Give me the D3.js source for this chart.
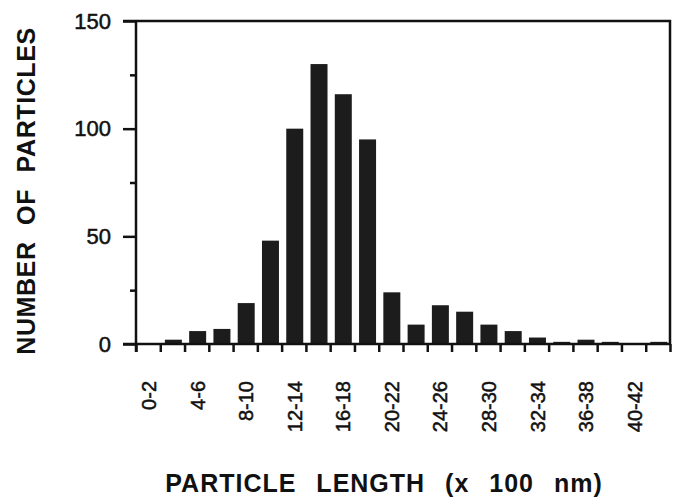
<!doctype html>
<html lang="en">
<head>
<meta charset="utf-8">
<title>Particle length</title>
<script src="https://d3js.org/d3.v7.min.js"></script>
<style>
  body { margin: 0; background: #fff; }
  svg { display: block; }
  text { font-family: "Liberation Sans", Arial, Helvetica, sans-serif; fill: #111; }
  .axis path, .axis line { stroke: #111; stroke-width: 2.5; }
  .axis text { font-size: 22px; fill: #111; stroke: #111; stroke-width: 0.5; }
  .title { font-weight: bold; font-size: 25px; }
</style>
</head>
<body>
<div id="chart"></div>
<script>
  // bins of particle length (x 100 nm)
  var bins = ["0-2","2-4","4-6","6-8","8-10","10-12","12-14","14-16","16-18","18-20","20-22",
              "22-24","24-26","26-28","28-30","30-32","32-34","34-36","36-38","38-40","40-42","42-44"];
  var counts = [0, 2, 6, 7, 19, 48, 100, 130, 116, 95, 24, 9, 18, 15, 9, 6, 3, 1, 2, 1, 0, 1];
  var yTicks = [0, 50, 100, 150];
  var yMinor = [25, 75, 125];

  (function() {
    var width = 673, height = 498;
    var left = 136, right = 670, plotTop = 21, plotBottom = 344;

    var svg = d3.select("#chart").append("svg")
        .attr("width", width)
        .attr("height", height);

    var x = d3.scaleBand().domain(bins).range([left, right]);
    var xb = d3.scaleLinear().domain([0, bins.length]).range([left, right]);
    var y = d3.scaleLinear().domain([0, 150]).range([plotBottom, plotTop]);

    // bars
    svg.append("g").selectAll("rect")
      .data(counts)
      .enter().append("rect")
        .attr("x", function(d, i) { return x(bins[i]) + x.bandwidth() * 0.19; })
        .attr("width", x.bandwidth() * 0.7)
        .attr("y", function(d) { return y(d); })
        .attr("height", function(d) { return plotBottom - y(d); })
        .attr("fill", "#1c1c1c");

    // frame: top and right
    svg.append("path")
        .attr("d", d3.line()([[left - 13, plotTop], [right, plotTop], [right, plotBottom]]))
        .attr("fill", "none")
        .attr("stroke", "#111")
        .attr("stroke-width", 2.5);

    // y axis
    svg.append("g")
        .attr("class", "axis")
        .attr("transform", "translate(" + left + ",0)")
        .call(d3.axisLeft(y).tickValues(yTicks).tickSize(13).tickSizeOuter(0).tickPadding(12))
        .call(function(g) { g.select(".domain").attr("d", "M0," + plotTop + "V" + (plotBottom + 8)); });

    svg.append("g")
        .attr("class", "axis")
        .attr("transform", "translate(" + left + ",0)")
        .call(d3.axisLeft(y).tickValues(yMinor).tickSize(6).tickFormat(""))
        .call(function(g) { g.select(".domain").remove(); });

    // x axis: ticks at the bin edges
    svg.append("g")
        .attr("class", "axis")
        .attr("transform", "translate(0," + plotBottom + ")")
        .call(d3.axisBottom(xb).tickValues(d3.range(bins.length + 1)).tickSize(8).tickFormat("").tickSizeOuter(0))
        .call(function(g) { g.select(".domain").attr("d", "M" + (left - 13) + ",0H" + right); });

    // every other bin is labelled
    svg.append("g").selectAll("text")
      .data(bins.filter(function(d, i) { return i % 2 === 0; }))
      .enter().append("text")
        .attr("transform", function(d) { return "translate(" + (x(d) + x.bandwidth() / 2 + 1) + ",381) rotate(-90)"; })
        .attr("text-anchor", "end")
        .attr("dy", "0.35em")
        .style("font-size", "20px")
        .style("stroke", "#111")
        .style("stroke-width", 0.5)
        .text(function(d) { return d; });

    // axis titles
    svg.append("text")
        .attr("class", "title")
        .attr("x", 384)
        .attr("y", 492)
        .attr("text-anchor", "middle")
        .style("word-spacing", "12px")
        .style("letter-spacing", "1px")
        .text("PARTICLE LENGTH (x 100 nm)");

    svg.append("text")
        .attr("class", "title")
        .attr("transform", "translate(35,191) rotate(-90)")
        .attr("text-anchor", "middle")
        .style("word-spacing", "9px")
        .style("letter-spacing", "0.6px")
        .text("NUMBER OF PARTICLES");
  })();
</script>
</body>
</html>
